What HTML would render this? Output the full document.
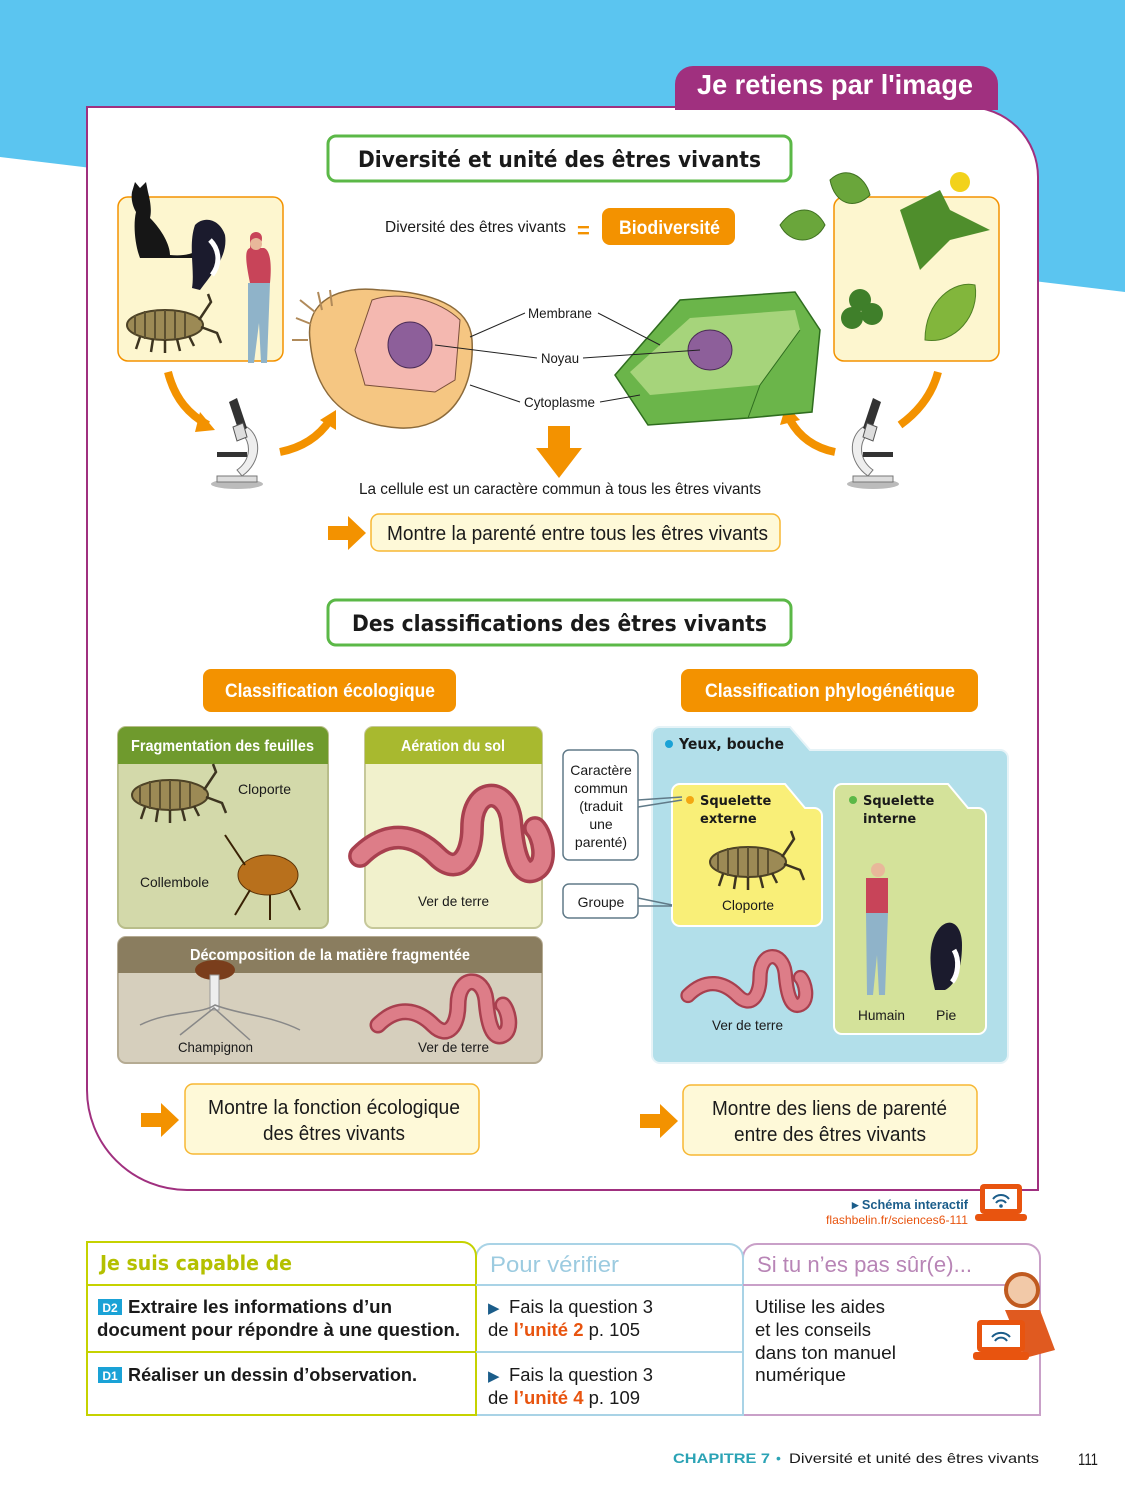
<!DOCTYPE html>
<html><head><meta charset="utf-8"><style>
html,body{margin:0;padding:0;background:#fff}
svg{display:block}
text{font-family:"Liberation Sans Narrow","Liberation Sans",sans-serif}
.b{font-weight:bold}
.s{font-family:"DejaVu Sans","Liberation Sans",sans-serif;font-weight:bold}
</style></head><body>
<svg width="1125" height="1500" viewBox="0 0 1125 1500" xmlns="http://www.w3.org/2000/svg">
<defs>
<g id="louse">
<ellipse cx="0" cy="0" rx="38" ry="15" fill="#9c8a55" stroke="#4d4226" stroke-width="2"/>
<path d="M-30,-10 V10 M-20,-14 V14 M-10,-15 V15 M0,-15 V15 M10,-14 V14 M20,-12 V12" stroke="#5c5030" stroke-width="2"/>
<path d="M-25,12 l-4,12 M-12,14 l-2,13 M0,15 l0,13 M12,14 l3,12 M24,11 l5,10 M34,-5 l12,-18 l-3,-8 M36,2 l16,6 l4,10" stroke="#3d3420" stroke-width="2.5" fill="none"/>
</g>
<g id="worm"><path d="M0,40 C20,20 40,25 55,40 C70,55 80,40 80,20 C80,-10 105,-10 108,15 C110,40 115,55 125,50 C135,45 130,25 125,20" fill="none" stroke="#a8404f" stroke-width="17" stroke-linecap="round"/><path d="M0,40 C20,20 40,25 55,40 C70,55 80,40 80,20 C80,-10 105,-10 108,15 C110,40 115,55 125,50 C135,45 130,25 125,20" fill="none" stroke="#dd7d88" stroke-width="12" stroke-linecap="round"/></g>
<g id="micro">
<ellipse cx="0" cy="42" rx="26" ry="5" fill="#bbb"/>
<path d="M-20,40 h40 v-6 h-40z" fill="#ddd" stroke="#777"/>
<path d="M5,34 C25,20 25,-5 10,-15 l-6,6 C15,0 14,18 0,28z" fill="#eee" stroke="#777"/>
<rect x="-20" y="10" width="30" height="5" fill="#333"/>
<path d="M-8,-40 l8,-4 l10,30 l-8,4z" fill="#333"/>
<path d="M-4,-15 l10,-4 l4,14 l-10,4z" fill="#ddd" stroke="#555"/>
</g>
<g id="rarrow"><path d="M0,8 h20 v-10 l18,17 l-18,17 v-10 h-20z" fill="#f39200"/></g>
</defs>

<polygon points="0,0 1125,0 1125,292 0,157" fill="#5bc5f0"/>
<path d="M87,107 H968 A70,70 0 0 1 1038,177 V1190 H187 A100,100 0 0 1 87,1090 Z" fill="#fff" stroke="#a0307f" stroke-width="2"/>
<path d="M675,110 V84 a18,18 0 0 1 18,-18 H980 a18,18 0 0 1 18,18 V110 Z" fill="#a0307f"/>
<text x="697" y="94" class="b" font-size="28" fill="#fff" textLength="276" lengthAdjust="spacingAndGlyphs">Je retiens par l'image</text>

<!-- title 1 -->
<rect x="328" y="136" width="463" height="45" rx="8" fill="#fff" stroke="#5bb847" stroke-width="3"/>
<text x="358" y="167" class="s" font-size="22" fill="#1a1a1a" textLength="403" lengthAdjust="spacingAndGlyphs">Diversité et unité des êtres vivants</text>

<rect x="118" y="197" width="165" height="164" rx="10" fill="#fdf6cf" stroke="#f39200" stroke-width="1.5"/>
<!-- cat -->
<path d="M132,192 l3,-10 l5,6 l6,-6 l2,10 C150,200 152,210 150,218 C162,230 170,245 170,255 C180,256 188,255 195,252 L195,258 H140 C135,245 133,225 136,212 C132,205 131,198 132,192Z" fill="#161616"/>
<!-- magpie -->
<path d="M195,225 C205,215 220,220 225,235 C228,255 215,270 200,290 L192,288 C195,270 188,245 195,225Z" fill="#1b1b2d"/><path d="M210,240 C218,248 222,262 212,275" stroke="#fff" stroke-width="5" fill="none"/>
<!-- woman -->
<path d="M250,238 c0,-8 12,-8 12,0 c0,6 -3,10 -6,10 h8 c6,2 8,15 6,35 h-20 c-4,-20 -6,-33 0,-35z" fill="#c84459"/><circle cx="256" cy="244" r="6" fill="#e8b89a"/><path d="M248,283 h22 l-3,80 h-6 l-2,-40 l-5,40 h-6z" fill="#8fb3c9"/>
<use href="#louse" x="165" y="325"/>

<rect x="834" y="197" width="165" height="164" rx="10" fill="#fdf6cf" stroke="#f39200" stroke-width="1.5"/>
<path d="M780,225 c15,-20 35,-20 45,0 c-10,20 -35,20 -45,0z M830,180 c15,-15 35,-5 40,15 c-15,15 -35,10 -40,-15z" fill="#6aa63b" stroke="#3f7021"/>
<path d="M900,210 l40,-20 l10,20 l40,20 l-40,10 l-30,30 z" fill="#4f8e2c"/><circle cx="960" cy="182" r="10" fill="#f2d21b"/>
<circle cx="860" cy="300" r="11" fill="#3f7f2a"/><circle cx="872" cy="314" r="11" fill="#3f7f2a"/><circle cx="852" cy="318" r="11" fill="#3f7f2a"/>
<path d="M925,340 c0,-40 30,-60 50,-55 c5,30 -20,60 -50,55z" fill="#82b63c" stroke="#4f8024"/>

<path d="M168,372 C175,400 190,415 208,425" stroke="#f39200" stroke-width="8" fill="none"/><polygon points="200,412 215,430 195,432" fill="#f39200"/>
<path d="M280,452 C300,448 318,438 330,420" stroke="#f39200" stroke-width="8" fill="none"/><polygon points="320,420 336,410 336,430" fill="#f39200"/>
<path d="M938,372 C932,395 918,412 900,425" stroke="#f39200" stroke-width="8" fill="none"/>
<path d="M835,452 C815,448 800,438 790,420" stroke="#f39200" stroke-width="8" fill="none"/><polygon points="780,425 786,405 800,420" fill="#f39200"/>
<use href="#micro" x="237" y="442"/>
<use href="#micro" x="873" y="442" transform="translate(1746,0) scale(-1,1)"/>

<text x="385" y="232" font-size="16" fill="#1a1a1a" textLength="181" lengthAdjust="spacingAndGlyphs">Diversité des êtres vivants</text>
<text x="577" y="238" class="b" font-size="22" fill="#f39200">=</text>
<rect x="602" y="208" width="133" height="37" rx="8" fill="#f39200"/>
<text x="619" y="234" class="b" font-size="19" fill="#fff" textLength="101" lengthAdjust="spacingAndGlyphs">Biodiversité</text>

<!-- animal cell -->
<path d="M310,340 C305,300 340,285 380,290 C430,292 470,305 472,340 C475,390 450,430 400,428 C350,425 315,400 310,340Z" fill="#f5c682" stroke="#8c6a3a" stroke-width="1.5"/>
<path d="M300,300 l15,12 M296,318 l15,6 M292,340 l16,0 M318,292 l4,18 M330,290 l2,16" stroke="#b08a5a" stroke-width="2"/>
<path d="M372,300 C400,290 440,300 460,320 L455,380 L435,392 L365,385 L355,350 Z" fill="#f4b8b0" stroke="#7a4f3a"/>
<ellipse cx="410" cy="345" rx="22" ry="23" fill="#8d5f9a" stroke="#4a2c55"/>
<!-- plant cell -->
<path d="M615,375 L680,300 L795,292 L820,330 L812,412 L748,418 L648,425 Z" fill="#6bb54a" stroke="#2f6d1f" stroke-width="1.5"/>
<path d="M630,372 L690,318 L795,310 L800,330 L760,385 L650,395 Z" fill="#a6d47b"/>
<path d="M748,418 L760,385 L800,330" stroke="#2f6d1f" fill="none"/>
<ellipse cx="710" cy="350" rx="22" ry="20" fill="#8d5f9a" stroke="#4a2c55"/>
<g stroke="#222" stroke-width="1" fill="none">
<path d="M470,337 L525,313 M598,313 L660,345 M435,345 L537,358 M583,358 L700,350 M470,385 L520,402 M600,402 L640,395"/>
</g>
<text x="528" y="318" font-size="14" fill="#1a1a1a" textLength="64" lengthAdjust="spacingAndGlyphs">Membrane</text>
<text x="541" y="363" font-size="14" fill="#1a1a1a" textLength="38" lengthAdjust="spacingAndGlyphs">Noyau</text>
<text x="524" y="407" font-size="14" fill="#1a1a1a" textLength="71" lengthAdjust="spacingAndGlyphs">Cytoplasme</text>
<path d="M548,426 h22 v22 h12 l-23,30 l-23,-30 h12z" fill="#f39200"/>
<text x="359" y="494" font-size="16" fill="#1a1a1a" textLength="402" lengthAdjust="spacingAndGlyphs">La cellule est un caractère commun à tous les êtres vivants</text>
<use href="#rarrow" x="328" y="518"/>
<rect x="371" y="514" width="409" height="37" rx="8" fill="#fef9d8" stroke="#f7b733" stroke-width="1.5"/>
<text x="387" y="540" font-size="20" fill="#1a1a1a" textLength="381" lengthAdjust="spacingAndGlyphs">Montre la parenté entre tous les êtres vivants</text>

<!-- title 2 -->
<rect x="328" y="600" width="463" height="45" rx="8" fill="#fff" stroke="#5bb847" stroke-width="3"/>
<text x="352" y="631" class="s" font-size="22" fill="#1a1a1a" textLength="415" lengthAdjust="spacingAndGlyphs">Des classifications des êtres vivants</text>
<rect x="203" y="669" width="253" height="43" rx="8" fill="#f39200"/>
<text x="225" y="697" class="b" font-size="19" fill="#fff" textLength="210" lengthAdjust="spacingAndGlyphs">Classification écologique</text>
<rect x="681" y="669" width="297" height="43" rx="8" fill="#f39200"/>
<text x="705" y="697" class="b" font-size="19" fill="#fff" textLength="250" lengthAdjust="spacingAndGlyphs">Classification phylogénétique</text>

<!-- eco boxes -->
<rect x="118" y="727" width="210" height="201" rx="8" fill="#d3d9aa" stroke="#b8bd8a" stroke-width="2"/>
<path d="M118,764 V735 a8,8 0 0 1 8,-8 H320 a8,8 0 0 1 8,8 V764Z" fill="#6f9a2d"/>
<text x="131" y="751" class="b" font-size="16" fill="#fff" textLength="183" lengthAdjust="spacingAndGlyphs">Fragmentation des feuilles</text>
<use href="#louse" x="170" y="795"/>
<text x="238" y="794" font-size="14" fill="#1a1a1a" textLength="53" lengthAdjust="spacingAndGlyphs">Cloporte</text>
<text x="140" y="887" font-size="14" fill="#1a1a1a" textLength="69" lengthAdjust="spacingAndGlyphs">Collembole</text>
<ellipse cx="268" cy="875" rx="30" ry="20" fill="#b8701c" stroke="#5a3308"/><path d="M245,865 l-20,-30 M250,890 l-15,25 M270,895 l0,25 M290,890 l10,20" stroke="#3a2205" stroke-width="2"/>

<rect x="365" y="727" width="177" height="201" rx="8" fill="#f1f1cc" stroke="#c6c89a" stroke-width="2"/>
<path d="M365,764 V735 a8,8 0 0 1 8,-8 H534 a8,8 0 0 1 8,8 V764Z" fill="#a8b92f"/>
<text x="401" y="751" class="b" font-size="16" fill="#fff" textLength="104" lengthAdjust="spacingAndGlyphs">Aération du sol</text>
<use href="#worm" x="360" y="800" transform="translate(360,800) scale(1.4) translate(-360,-800)"/>
<text x="418" y="906" font-size="14" fill="#1a1a1a" textLength="71" lengthAdjust="spacingAndGlyphs">Ver de terre</text>

<rect x="118" y="937" width="424" height="126" rx="8" fill="#d6cfbd" stroke="#b5ab93" stroke-width="2"/>
<path d="M118,973 V945 a8,8 0 0 1 8,-8 H534 a8,8 0 0 1 8,8 V973Z" fill="#8a7d5f"/>
<text x="190" y="960" class="b" font-size="16" fill="#fff" textLength="280" lengthAdjust="spacingAndGlyphs">Décomposition de la matière fragmentée</text>
<ellipse cx="215" cy="970" rx="20" ry="10" fill="#7a3e1c"/><rect x="210" y="975" width="9" height="35" fill="#eee" stroke="#999"/>
<path d="M140,1025 C170,1010 200,1015 215,1005 C240,1015 270,1015 300,1030 M180,1035 L214,1008 L250,1040" stroke="#888" fill="none" stroke-width="1.5"/>
<text x="178" y="1052" font-size="14" fill="#1a1a1a" textLength="75" lengthAdjust="spacingAndGlyphs">Champignon</text>
<use href="#worm" x="378" y="985"/>
<text x="418" y="1052" font-size="14" fill="#1a1a1a" textLength="71" lengthAdjust="spacingAndGlyphs">Ver de terre</text>

<!-- phylo -->
<path d="M652,1055 V735 a8,8 0 0 1 8,-8 H790 L810,750 H1000 a8,8 0 0 1 8,8 V1055 a8,8 0 0 1 -8,8 H660 a8,8 0 0 1 -8,-8Z" fill="#b2dfea" stroke="#e6f3f7" stroke-width="2"/>
<circle cx="669" cy="744" r="4" fill="#1aa2d6"/>
<text x="679" y="749" class="s" font-size="15" fill="#1a1a1a" textLength="105" lengthAdjust="spacingAndGlyphs">Yeux, bouche</text>
<path d="M672,918 V792 a8,8 0 0 1 8,-8 H785 L805,808 H814 a8,8 0 0 1 8,8 V918 a8,8 0 0 1 -8,8 H680 a8,8 0 0 1 -8,-8Z" fill="#f9ef78" stroke="#fff" stroke-width="2"/>
<circle cx="690" cy="800" r="4" fill="#f3a712"/>
<text x="700" y="805" class="s" font-size="13" fill="#1a1a1a">Squelette</text>
<text x="700" y="823" class="s" font-size="13" fill="#1a1a1a">externe</text>
<use href="#louse" x="748" y="862"/>
<text x="722" y="910" font-size="14" fill="#1a1a1a" textLength="52" lengthAdjust="spacingAndGlyphs">Cloporte</text>
<path d="M834,1026 V792 a8,8 0 0 1 8,-8 H948 L968,808 H978 a8,8 0 0 1 8,8 V1026 a8,8 0 0 1 -8,8 H842 a8,8 0 0 1 -8,-8Z" fill="#d4e29a" stroke="#fff" stroke-width="2"/>
<circle cx="853" cy="800" r="4" fill="#5bb847"/>
<text x="863" y="805" class="s" font-size="13" fill="#1a1a1a">Squelette</text>
<text x="863" y="823" class="s" font-size="13" fill="#1a1a1a">interne</text>
<circle cx="878" cy="870" r="7" fill="#e8b89a"/><path d="M866,878 h22 v35 h-22z" fill="#c84459"/><path d="M866,913 h22 l-3,82 h-6 l-2,-40 l-4,40 h-6z" fill="#8fb3c9"/>
<path d="M935,935 C945,915 962,920 962,945 C962,970 955,985 945,990 L935,990 C930,970 928,950 935,935Z" fill="#1b1b2d"/><path d="M954,950 C960,960 958,975 952,982" stroke="#fff" stroke-width="5" fill="none"/>
<text x="858" y="1020" font-size="14" fill="#1a1a1a" textLength="47" lengthAdjust="spacingAndGlyphs">Humain</text>
<text x="936" y="1020" font-size="14" fill="#1a1a1a">Pie</text>
<use href="#worm" x="688" y="960" transform="translate(688,955) scale(0.9) translate(-688,-955)"/>
<text x="712" y="1030" font-size="14" fill="#1a1a1a" textLength="71" lengthAdjust="spacingAndGlyphs">Ver de terre</text>

<rect x="563" y="750" width="75" height="110" rx="6" fill="#fff" stroke="#607a88" stroke-width="1.5"/>
<path d="M638,800 L682,797 M638,807 L682,800" stroke="#607a88" stroke-width="1.5"/>
<g font-size="14" fill="#1a1a1a" text-anchor="middle"><text x="601" y="775">Caractère</text><text x="601" y="793">commun</text><text x="601" y="811">(traduit</text><text x="601" y="829">une</text><text x="601" y="847">parenté)</text></g>
<rect x="563" y="884" width="75" height="34" rx="6" fill="#fff" stroke="#607a88" stroke-width="1.5"/>
<path d="M638,898 L672,905 M638,906 L672,906" stroke="#607a88" stroke-width="1.5"/>
<text x="601" y="907" font-size="14" fill="#1a1a1a" text-anchor="middle">Groupe</text>

<use href="#rarrow" x="141" y="1105"/>
<rect x="185" y="1084" width="294" height="70" rx="8" fill="#fef9d8" stroke="#f7b733" stroke-width="1.5"/>
<text x="208" y="1114" font-size="20" fill="#1a1a1a" textLength="252" lengthAdjust="spacingAndGlyphs">Montre la fonction écologique</text>
<text x="263" y="1140" font-size="20" fill="#1a1a1a" textLength="142" lengthAdjust="spacingAndGlyphs">des êtres vivants</text>
<use href="#rarrow" x="640" y="1106"/>
<rect x="683" y="1085" width="294" height="70" rx="8" fill="#fef9d8" stroke="#f7b733" stroke-width="1.5"/>
<text x="712" y="1115" font-size="20" fill="#1a1a1a" textLength="235" lengthAdjust="spacingAndGlyphs">Montre des liens de parenté</text>
<text x="734" y="1141" font-size="20" fill="#1a1a1a" textLength="192" lengthAdjust="spacingAndGlyphs">entre des êtres vivants</text>

<text x="852" y="1209" class="b" font-size="13" fill="#1b5d8a" textLength="116" lengthAdjust="spacingAndGlyphs">▸ Schéma interactif</text>
<text x="826" y="1224" font-size="12" fill="#e8540f" textLength="142" lengthAdjust="spacingAndGlyphs">flashbelin.fr/sciences6-111</text>
<rect x="980" y="1184" width="42" height="30" rx="4" fill="#e8540f"/><rect x="985" y="1189" width="32" height="20" fill="#fff"/><rect x="975" y="1214" width="52" height="7" rx="3" fill="#e8540f"/>
<path d="M993,1199 a10,10 0 0 1 16,0 M996,1203 a6,6 0 0 1 10,0" stroke="#1b5d8a" stroke-width="2" fill="none"/><circle cx="1001" cy="1206" r="1.8" fill="#1b5d8a"/>

<!-- table -->
<path d="M743,1285 V1258 a14,14 0 0 1 14,-14 H1026 a14,14 0 0 1 14,14 V1415 H743" fill="#fff" stroke="#c9a0c8" stroke-width="2"/>
<path d="M476,1285 V1258 a14,14 0 0 1 14,-14 H729 a14,14 0 0 1 14,14 V1415 H476" fill="#fff" stroke="#a9d3e6" stroke-width="2"/>
<path d="M87,1285 V1242 H462 a14,14 0 0 1 14,14 V1415 H87Z" fill="#fff" stroke="#c5d200" stroke-width="2"/>
<line x1="87" y1="1285" x2="476" y2="1285" stroke="#c5d200" stroke-width="2"/>
<line x1="87" y1="1352" x2="476" y2="1352" stroke="#c5d200" stroke-width="2"/>
<line x1="476" y1="1285" x2="743" y2="1285" stroke="#a9d3e6" stroke-width="2"/>
<line x1="476" y1="1352" x2="743" y2="1352" stroke="#a9d3e6" stroke-width="2"/>
<line x1="743" y1="1285" x2="1040" y2="1285" stroke="#c9a0c8" stroke-width="2"/>
<text x="100" y="1270" class="s" font-size="20" fill="#b4c000" textLength="192" lengthAdjust="spacingAndGlyphs">Je suis capable de</text>
<text x="490" y="1272" font-size="22" fill="#9ccbe0" textLength="129" lengthAdjust="spacingAndGlyphs">Pour vérifier</text>
<text x="757" y="1272" font-size="22" fill="#b885b6" textLength="215" lengthAdjust="spacingAndGlyphs">Si tu n’es pas sûr(e)...</text>
<rect x="98" y="1299" width="24" height="16" fill="#1aa2d6"/><text x="110" y="1312" class="b" font-size="12" fill="#fff" text-anchor="middle">D2</text>
<text x="128" y="1313" class="b" font-size="18" fill="#1a1a1a" textLength="264" lengthAdjust="spacingAndGlyphs">Extraire les informations d’un</text>
<text x="97" y="1336" class="b" font-size="18" fill="#1a1a1a" textLength="363" lengthAdjust="spacingAndGlyphs">document pour répondre à une question.</text>
<rect x="98" y="1367" width="24" height="16" fill="#1aa2d6"/><text x="110" y="1380" class="b" font-size="12" fill="#fff" text-anchor="middle">D1</text>
<text x="128" y="1381" class="b" font-size="18" fill="#1a1a1a" textLength="289" lengthAdjust="spacingAndGlyphs">Réaliser un dessin d’observation.</text>
<g font-size="18" fill="#1a1a1a">
<text x="488" y="1313" fill="#1b5d8a" font-size="15">▶</text><text x="509" y="1313" textLength="144" lengthAdjust="spacingAndGlyphs">Fais la question 3</text>
<text x="488" y="1336" textLength="152" lengthAdjust="spacingAndGlyphs">de <tspan class="b" fill="#e8540f">l’unité 2</tspan> p. 105</text>
<text x="488" y="1381" fill="#1b5d8a" font-size="15">▶</text><text x="509" y="1381" textLength="144" lengthAdjust="spacingAndGlyphs">Fais la question 3</text>
<text x="488" y="1404" textLength="152" lengthAdjust="spacingAndGlyphs">de <tspan class="b" fill="#e8540f">l’unité 4</tspan> p. 109</text>
<text x="755" y="1313" textLength="130" lengthAdjust="spacingAndGlyphs">Utilise les aides</text>
<text x="755" y="1336" textLength="116" lengthAdjust="spacingAndGlyphs">et les conseils</text>
<text x="755" y="1359" textLength="141" lengthAdjust="spacingAndGlyphs">dans ton manuel</text>
<text x="755" y="1381" textLength="91" lengthAdjust="spacingAndGlyphs">numérique</text>
</g>
<circle cx="1022" cy="1290" r="16" fill="#f2c9a8" stroke="#c05a1f" stroke-width="4"/>
<path d="M1005,1310 h35 l15,40 l-30,8 z" fill="#e05a20"/>
<rect x="977" y="1320" width="48" height="32" rx="4" fill="#e8540f"/><rect x="982" y="1325" width="38" height="22" fill="#fff"/><rect x="973" y="1352" width="56" height="8" rx="3" fill="#e8540f"/>
<path d="M992,1337 a12,12 0 0 1 18,0 M995,1341 a7,7 0 0 1 12,0" stroke="#1b5d8a" stroke-width="2" fill="none"/>

<text x="673" y="1463" font-size="14" fill="#2ba3b5" class="b" textLength="97" lengthAdjust="spacingAndGlyphs">CHAPITRE 7</text>
<text x="776" y="1463" font-size="14" fill="#2ba3b5">•</text>
<text x="789" y="1463" font-size="14" fill="#1a1a1a" textLength="250" lengthAdjust="spacingAndGlyphs">Diversité et unité des êtres vivants</text>
<text x="1078" y="1465" font-size="17" fill="#1a1a1a" textLength="20" lengthAdjust="spacingAndGlyphs">111</text>
</svg>
</body></html>
